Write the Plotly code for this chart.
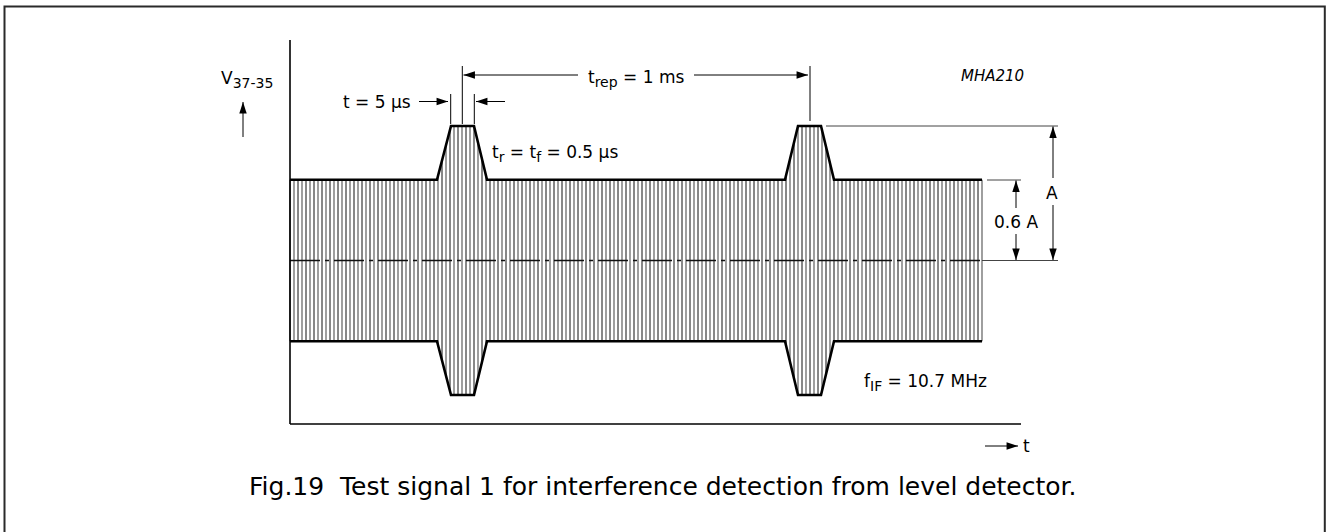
import numpy as np
import plotly.graph_objects as go

# ---------------- data (schematic signal, amplitude in units of A) ----------------
pulse_time = [290, 437, 451, 474, 487, 785, 798, 821, 834, 982]      # time axis breakpoints
envelope_amp = [0.6, 0.6, 1.0, 1.0, 0.6, 0.6, 1.0, 1.0, 0.6, 0.6]     # envelope amplitude (A)
carrier_step = 4                                                     # spacing of carrier hatch

# ---------------- canvas helpers (layout positions in px) ----------------
W, H = 1326, 532
Y0_PX, A_PX = 260.5, 134.5             # pixel of amplitude 0 and pixels per unit A
amp_range = [-(H - Y0_PX) / A_PX, Y0_PX / A_PX]

FONT = "DejaVu Sans, Liberation Sans, Arial"
BLACK = "#000000"

fig = go.Figure()

# carrier hatching (alternating dark / grey vertical strokes)
ht = np.arange(pulse_time[0], pulse_time[-1] + 0.1, carrier_step)
env = np.interp(ht, pulse_time, envelope_amp)
for parity, col, w in ((0, "#111111", 1.0), (1, "#5e5e5e", 1.2)):
    xs, ys = [], []
    for i, (t, a) in enumerate(zip(ht, env)):
        if i % 2 == parity:
            xs += [t, t, None]
            ys += [-a, a, None]
    fig.add_trace(go.Scatter(x=xs, y=ys, mode="lines", yaxis="y2",
                             line=dict(color=col, width=w), hoverinfo="skip",
                             showlegend=False))

# centre dash-dot line
fig.add_trace(go.Scatter(x=[pulse_time[0], pulse_time[-1]], y=[0, 0], mode="lines",
                         yaxis="y2", line=dict(color="#111111", width=1.3,
                                               dash="30px,5px,4px,5px"),
                         hoverinfo="skip", showlegend=False))

# envelopes
for sgn in (1, -1):
    fig.add_trace(go.Scatter(x=pulse_time, y=[sgn * a for a in envelope_amp],
                             mode="lines", yaxis="y2",
                             line=dict(color=BLACK, width=2.6),
                             hoverinfo="skip", showlegend=False))

# ---------------- decorations (pixel canvas) ----------------
shapes = []
def hline(x0, x1, y, w=1.0, col=BLACK):
    shapes.append(dict(type="line", xref="x", yref="y", x0=x0, x1=x1, y0=y, y1=y,
                       line=dict(color=col, width=w)))
def vline(x, y0, y1, w=1.0, col=BLACK):
    shapes.append(dict(type="line", xref="x", yref="y", x0=x, x1=x, y0=y0, y1=y1,
                       line=dict(color=col, width=w)))

# outer frame
shapes.append(dict(type="rect", xref="x", yref="y", x0=4.5, x1=1324.8, y0=6.5, y1=560,
                   line=dict(color="#2a2a2a", width=2)))
# axes
vline(290, 40, 424, 1.6)
hline(290, 1021, 424, 1.6)
# pulse markers
vline(450.7, 94, 124)
vline(474.3, 94, 124)
vline(462.3, 66, 124)
vline(810, 66, 121)
# reference lines
hline(826, 1058, 126, 1.0, "#444444")
hline(987, 1021, 180, 1.0, "#444444")
hline(982, 1058, 260.5, 1.0, "#444444")

# arrows: (tail_x, tail_y, tip_x, tip_y, angle)
arrows = [
    (243, 137, 243, 102, 0),
    (419, 101.5, 448, 101.5, 90),
    (505, 101.5, 476, 101.5, 270),
    (578, 75, 463.5, 75, 270),
    (694, 75, 808, 75, 90),
    (1053, 178, 1053, 126.5, 0),
    (1053, 205, 1053, 260, 180),
    (1016, 208, 1016, 180.5, 0),
    (1016, 234, 1016, 260, 180),
    (985, 446, 1018, 446, 90),
]
for tx, ty, hx, hy, ang in arrows:
    shapes.append(dict(type="line", xref="x", yref="y", x0=tx, y0=ty, x1=hx, y1=hy,
                       line=dict(color=BLACK, width=1)))
fig.add_trace(go.Scatter(x=[a[2] for a in arrows], y=[a[3] for a in arrows],
                         mode="markers", xaxis="x", yaxis="y",
                         marker=dict(symbol="arrow", size=12, color=BLACK,
                                     angle=[a[4] for a in arrows],
                                     line=dict(width=0)),
                         hoverinfo="skip", showlegend=False))

def sub(s, px=14):
    return "<sub><span style='font-size:%dpx'>%s</span></sub>" % (px, s)

# texts
texts = [
    ("V" + sub("37-35"), 275, 79, "right", 17, False),
    ("t = 5 µs", 413, 101.5, "right", 17, False),
    ("t" + sub("rep") + " = 1 ms", 636, 78, "center", 17, False),
    ("t" + sub("r") + " = t" + sub("f") + " = 0.5 µs", 490, 153, "left", 17, False),
    ("MHA210", 992, 76, "center", 15, True),
    ("A", 1052, 193, "center", 17, False),
    ("0.6 A", 1016, 222, "center", 17, False),
    ("f" + sub("IF") + " = 10.7 MHz", 862, 382, "left", 17, False),
    ("t", 1021, 446, "left", 17, False),
    ("Fig.19\u00a0\u00a0Test signal 1 for interference detection from level detector.",
     662, 486, "center", 25, False),
]
annotations = []
for txt, x, y, anchor, size, ital in texts:
    if ital:
        txt = "<i>" + txt + "</i>"
    annotations.append(dict(text=txt, x=x, y=y, xref="x", yref="y", showarrow=False,
                            xanchor=anchor, yanchor="middle",
                            font=dict(family=FONT, size=size, color=BLACK)))

fig.update_layout(
    width=W, height=H,
    margin=dict(l=0, r=0, t=0, b=0),
    paper_bgcolor="white", plot_bgcolor="white",
    font=dict(family=FONT, size=17, color=BLACK),
    xaxis=dict(range=[0, W], visible=False, fixedrange=True),
    yaxis=dict(range=[H, 0], visible=False, fixedrange=True),
    yaxis2=dict(range=amp_range, overlaying="y", visible=False, fixedrange=True),
    shapes=shapes, annotations=annotations, showlegend=False,
)

fig.write_html("out.html", config={"displayModeBar": False},
               post_script="document.body.style.margin='0';")
